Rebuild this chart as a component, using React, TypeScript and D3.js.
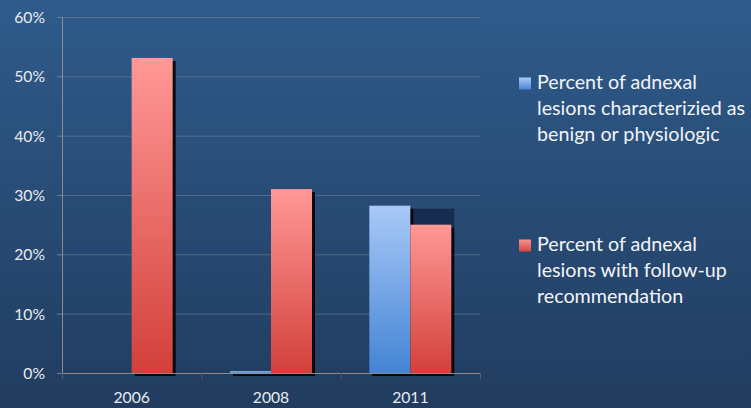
import React from "react";
import * as d3 from "d3";

const categories = ["2006", "2008", "2011"];
const seriesNames = [
  "Percent of adnexal lesions characterizied as benign or physiologic",
  "Percent of adnexal lesions with follow-up recommendation",
];
const benignValues = [0, 0.3, 28.2];
const followUpValues = [53.1, 31.0, 25.0];
const yTicks = [0, 10, 20, 30, 40, 50, 60];
const legendLines = [
  ["Percent of adnexal", "lesions characterizied as", "benign or physiologic"],
  ["Percent of adnexal", "lesions with follow-up", "recommendation"],
];

const W = 751;
const H = 408;
const FONT = "Lato, 'Open Sans', sans-serif";

export default function App() {
  const left = 62;
  const right = 480;
  const top = 17;
  const bottom = 373;

  const x = d3.scaleBand<string>().domain(categories).range([left, right]);
  const y = d3.scaleLinear().domain([0, 60]).range([bottom, top]);
  const barW = 41;
  const series = [benignValues, followUpValues];
  const fills = ["url(#gBlue)", "url(#gRed)"];

  return (
    <svg
      width={W}
      height={H}
      style={{ position: "absolute", left: 0, top: 0, display: "block" }}
    >
      <defs>
        <linearGradient id="bg" x1="0" y1="0" x2="0" y2="1">
          <stop offset="0" stopColor="#2f5b8b" />
          <stop offset="1" stopColor="#213c5f" />
        </linearGradient>
        <linearGradient id="gRed" x1="0" y1="0" x2="0" y2="1">
          <stop offset="0" stopColor="#ff9896" />
          <stop offset="1" stopColor="#d3403b" />
        </linearGradient>
        <linearGradient id="gBlue" x1="0" y1="0" x2="0" y2="1">
          <stop offset="0" stopColor="#a9c9f8" />
          <stop offset="1" stopColor="#4384d4" />
        </linearGradient>
        <linearGradient id="lBlue" x1="0" y1="0" x2="0" y2="1">
          <stop offset="0" stopColor="#a9c9f8" />
          <stop offset="1" stopColor="#4a86d4" />
        </linearGradient>
        <linearGradient id="lRed" x1="0" y1="0" x2="0" y2="1">
          <stop offset="0" stopColor="#f59490" />
          <stop offset="1" stopColor="#d8453f" />
        </linearGradient>
      </defs>
      <rect x={0} y={0} width={W} height={H} fill="url(#bg)" />

      {/* gridlines */}
      {yTicks.slice(1).map((t) => (
        <line
          key={"g" + t}
          x1={left}
          x2={right}
          y1={y(t) + 0.5}
          y2={y(t) + 0.5}
          stroke="#6f7f96"
          strokeOpacity={0.6}
          strokeWidth={1}
        />
      ))}

      {/* y axis */}
      <line x1={left + 0.5} x2={left + 0.5} y1={top} y2={bottom} stroke="#8c8c8c" />
      {yTicks.map((t) => (
        <g key={"t" + t}>
          <line x1={left - 5} x2={left} y1={y(t) + 0.5} y2={y(t) + 0.5} stroke="#6f7f96" />
          <text
            x={45}
            y={y(t) + 6}
            textAnchor="end"
            fill="#e8ecf2"
            fontFamily={FONT}
            fontSize={15.7}
          >
            {t}%
          </text>
        </g>
      ))}

      {/* bars */}
      {categories.map((c, i) => {
        const cx = (x(c) as number) + x.bandwidth() / 2;
        const vb = benignValues[i];
        const vf = followUpValues[i];
        return (
          <g key={c}>
            {vb > vf && vf > 0 && (
              <rect
                x={cx}
                y={y(vb) + 3}
                width={barW + 3}
                height={y(vf) - y(vb)}
                fill="#0f1f3e"
                opacity={0.7}
              />
            )}
            {series.map((vals, s) => {
              const v = vals[i];
              if (v <= 0) return null;
              const bx = s === 0 ? cx - barW : cx;
              const by = y(v);
              const h = bottom - by;
              return (
                <g key={s}>
                  <rect x={bx + 3} y={by + 3} width={barW} height={h} fill="#000" opacity={0.85} />
                  <rect x={bx} y={by} width={barW} height={h} fill={fills[s]} />
                </g>
              );
            })}
          </g>
        );
      })}

      {/* x axis */}
      <line x1={left} x2={right} y1={bottom + 0.5} y2={bottom + 0.5} stroke="#8c8c8c" />
      {[left, ...categories.map((c) => (x(c) as number) + x.bandwidth())].map((tx, i) => (
        <line key={"xt" + i} x1={tx + 0.5} x2={tx + 0.5} y1={bottom} y2={bottom + 6} stroke="#4a607c" />
      ))}
      {categories.map((c) => (
        <text
          key={"xl" + c}
          x={(x(c) as number) + x.bandwidth() / 2}
          y={403}
          textAnchor="middle"
          fill="#e8ecf2"
          fontFamily={FONT}
          fontSize={15.7}
        >
          {c}
        </text>
      ))}

      {/* legend */}
      {seriesNames.map((name, s) => {
        const baseY = s === 0 ? 89 : 251;
        return (
          <g key={name}>
            <rect x={519} y={baseY - 11.5} width={12} height={12} fill={s === 0 ? "url(#lBlue)" : "url(#lRed)"} />
            {legendLines[s].map((ln, k) => (
              <text
                key={k}
                x={537}
                y={baseY + k * 26}
                fill="#f2f4f8"
                fontFamily={FONT}
                fontSize={19.7}
              >
                {ln}
              </text>
            ))}
          </g>
        );
      })}
    </svg>
  );
}
